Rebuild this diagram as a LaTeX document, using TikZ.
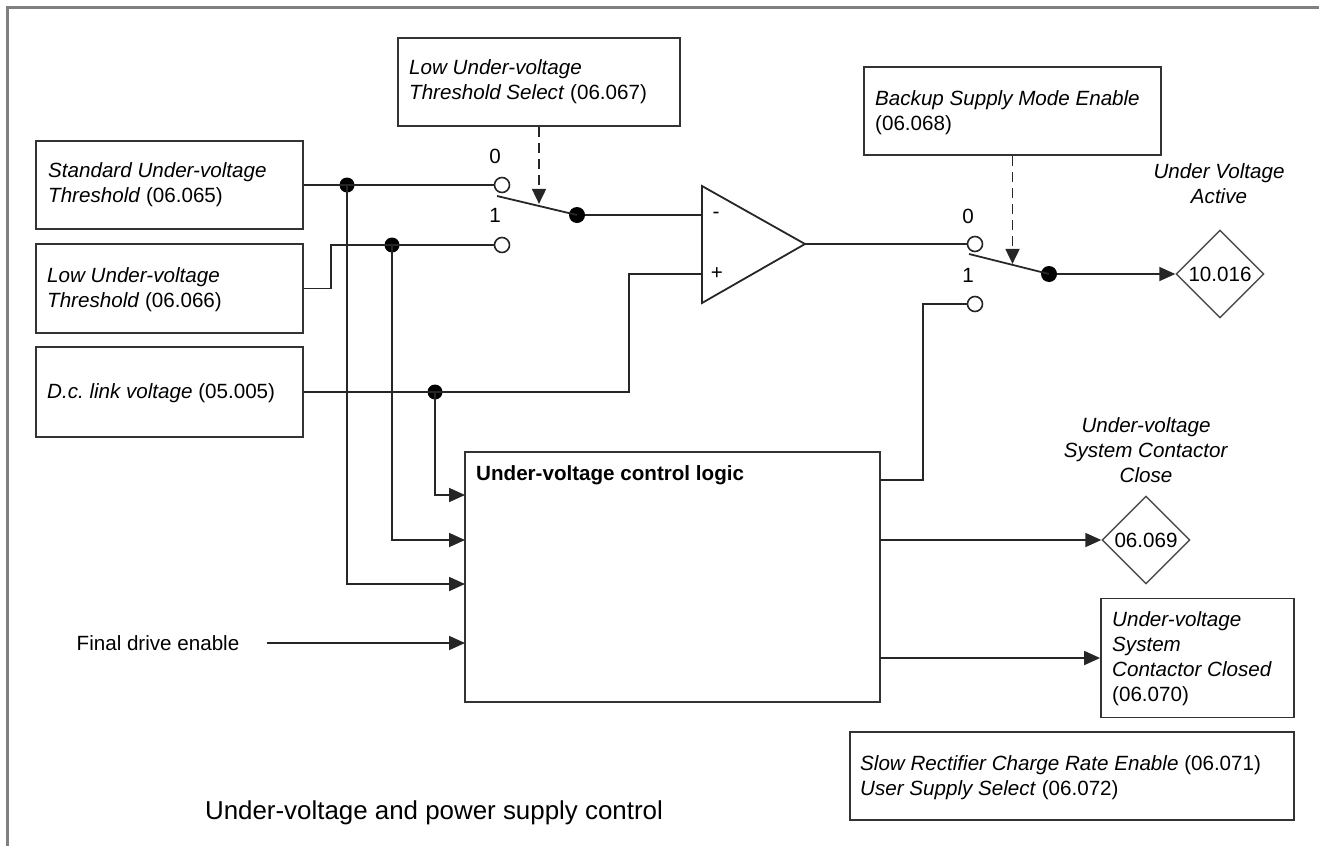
\documentclass[tikz,border=0pt]{standalone}
\usepackage{fontspec}
\setmainfont{Liberation Sans}
\usetikzlibrary{arrows.meta,shapes.geometric,calc}
\tikzset{
  wire/.style={line width=1.8pt, draw=black!85},
  arr/.style={wire, -{Triangle[length=16pt,width=14pt]}},
  dasharr/.style={wire, dash pattern=on 10pt off 6pt, -{Triangle[length=15pt,width=14pt]}},
  pbox/.style={draw=black!80, line width=1.8pt, rectangle, inner sep=0pt},
  txt/.style={inner sep=0pt, anchor=north west, align=left, font=\fontsize{20.6}{25}\selectfont},
  ctxt/.style={inner sep=0pt, anchor=north, align=center, font=\fontsize{20.6}{25}\selectfont},
  lbl/.style={inner sep=0pt, font=\fontsize{20.6}{25}\selectfont},
  contact/.style={circle, draw=black!85, line width=1.6pt, fill=white, minimum size=15pt, inner sep=0pt},
  dot/.style={circle, fill=black, minimum size=16pt, inner sep=0pt},
  jdot/.style={circle, fill=black, minimum size=15pt, inner sep=0pt},
  dia/.style={diamond, draw=black!70, line width=1.4pt, shape aspect=1, minimum width=88pt, minimum height=88pt, inner sep=0pt, font=\fontsize{20.6}{25}\selectfont}
}
\begin{document}
\begin{tikzpicture}[x=1pt,y=-1pt]
\useasboundingbox (0,0) rectangle (1319,846);
% frame
\draw[draw=black!50, line width=3pt] (7,846) -- (7,7.5) -- (1319,7.5);

% input boxes
\node[pbox, minimum width=267pt, minimum height=88pt] (std) at (169.5,185) {};
\node[txt] (stdt) at (48,162) {\textit{Standard Under-voltage}\\\textit{Threshold} (06.065)};
\node[pbox, minimum width=267pt, minimum height=89pt] (low) at (169.5,288.5) {};
\node[txt] (lowt) at (47,267) {\textit{Low Under-voltage}\\\textit{Threshold} (06.066)};
\node[pbox, minimum width=267pt, minimum height=90pt] (dc) at (169.5,392) {};
\node[txt] (dct) at (47,383) {\textit{D.c.\ link voltage} (05.005)};

% select boxes
\node[pbox, minimum width=282pt, minimum height=88pt] (luts) at (539,82) {};
\node[txt] (lutst) at (409,59) {\textit{Low Under-voltage}\\\textit{Threshold Select} (06.067)};
\node[pbox, minimum width=297pt, minimum height=88pt] (bks) at (1012.5,111) {};
\node[txt] (bkst) at (875,90) {\textit{Backup Supply Mode Enable}\\(06.068)};

% logic box
\node[pbox, minimum width=415pt, minimum height=250pt] (lg) at (672.5,577) {};
\node[txt, font=\fontsize{20.6}{25}\selectfont\bfseries] (lgt) at (476,465) {Under-voltage control logic};
\coordinate (in1) at (465,495);
\coordinate (in2) at (465,540);
\coordinate (in3) at (465,584);
\coordinate (in4) at (465,643);
\coordinate (o1) at (880,480);
\coordinate (o2) at (880,540);
\coordinate (o3) at (880,658);

% switch 1
\node[contact] (s1a) at (502,185) {};
\node[contact] (s1b) at (502,245) {};
\node[lbl] (s1l0) at (495,156) {0};
\node[lbl] (s1l1) at (495,215) {1};
\node[dot] (p1) at (577,215) {};
\draw[wire] ($(s1a)+(-5,11)$) -- (p1.center);
\draw[dasharr] (luts.south) -- ++(0,77);

% junctions
\node[jdot] (j1) at (347,185) {};
\node[jdot] (j2) at (392,245) {};
\node[jdot] (j3) at (435,392) {};

% comparator
\coordinate (cm) at (702,215);
\coordinate (cp) at (702,274);
\coordinate (co) at (805,244);
\draw[wire, line join=miter] (702,186) -- (805,244) -- (702,303) -- cycle;
\node[lbl] (cmm) at (716,215) {-};
\node[lbl] (cmp) at (717,274) {+};

% switch 2
\node[contact] (s2a) at (975,244) {};
\node[contact] (s2b) at (975,304) {};
\node[lbl] (s2l0) at (968,216) {0};
\node[lbl] (s2l1) at (968,275) {1};
\node[dot] (p2) at (1049,274) {};
\draw[wire] ($(s2a)+(-6,10)$) -- (p2.center);
\draw[dasharr] (bks.south) -- ++(0,108);

% outputs
\node[dia] (d1) at (1220,274) {10.016};
\node[ctxt] (d1t) at (1219,163) {\textit{Under Voltage}\\\textit{Active}};
\node[dia] (d2) at (1146,540) {06.069};
\node[ctxt] (d2t) at (1146,417) {\textit{Under-voltage}\\\textit{System Contactor}\\\textit{Close}};
\node[pbox, minimum width=193pt, minimum height=119pt] (b70) at (1197.5,658) {};
\node[txt] (b70t) at (1112,611) {\textit{Under-voltage}\\\textit{System}\\\textit{Contactor Closed}\\(06.070)};
\node[pbox, minimum width=444pt, minimum height=88pt] (bot) at (1072,776) {};
\node[txt] (bott) at (860,755) {\textit{Slow Rectifier Charge Rate Enable} (06.071)\\\textit{User Supply Select} (06.072)};

% final drive enable and caption
\node[lbl] (fde) at (158,643) {Final drive enable};
\node[inner sep=0pt, font=\fontsize{25.9}{30}\selectfont] (cap) at (434,813) {Under-voltage and power supply control};

% wires
\draw[wire] (std.east) -- (s1a);
\draw[wire] (low.east) -- ++(27,0) |- (s1b);
\draw[wire] (p1) -- (cm);
\draw[wire] (dc.east) -- ++(325,0) |- (cp);
\draw[arr] (j3.center) |- (in1);
\draw[arr] (j2.center) |- (in2);
\draw[arr] (j1.center) |- (in3);
\draw[arr] ([xshift=27pt]fde.east) -- (in4);
\draw[wire] (co) -- (s2a);
\draw[wire] (o1) -- ++(43,0) |- (s2b);
\draw[arr] (p2) -- (d1.west);
\draw[arr] (o2) -- (d2.west);
\draw[arr] (o3) -- (b70.west);
\end{tikzpicture}
\end{document}
